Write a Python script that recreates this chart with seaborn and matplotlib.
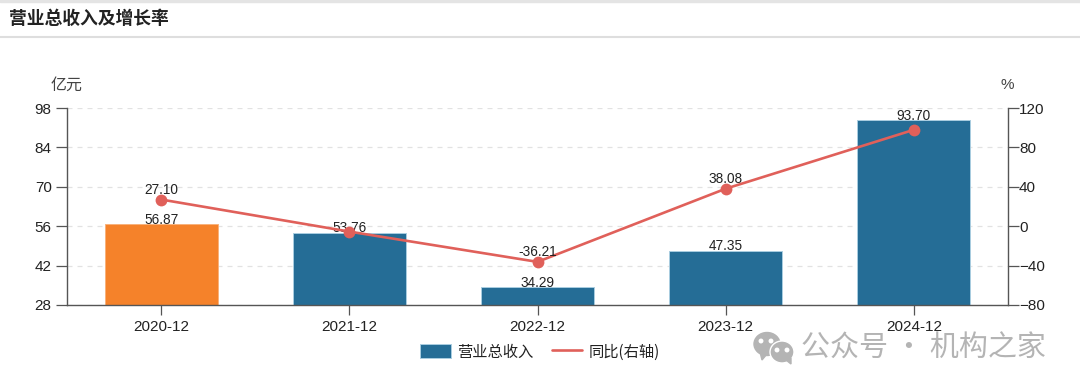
"""营业总收入及增长率 bar + line combo."""
import matplotlib; matplotlib.use("Agg")
import pandas as pd
import matplotlib.pyplot as plt
from matplotlib.lines import Line2D
from matplotlib.patches import Ellipse, Patch, Polygon, Rectangle
import seaborn as sns

periods = ["2020-12", "2021-12", "2022-12", "2023-12", "2024-12"]
revenue = [56.87, 53.76, 34.29, 47.35, 93.70]
growth = [27.10, -5.47, -36.21, 38.08, 97.88]
growth_labels = ["27.10", "", "-36.21", "38.08", ""]
left_ticks = [28, 42, 56, 70, 84, 98]
right_ticks = [-80, -40, 0, 40, 80, 120]

BLUE, ORANGE, RED = "#256d96", "#f5822a", "#e0605a"
W, H = 1080, 391

sns.set_theme(style="white")
plt.rcParams["font.family"] = ["Liberation Sans", "Noto Sans CJK SC", "DejaVu Sans"]
CJK = ["Noto Sans CJK SC", "DejaVu Sans"]

df = pd.DataFrame({"period": periods, "revenue": revenue, "growth": growth})

fig = plt.figure(figsize=(W / 100, H / 100), dpi=100)
ax = fig.add_axes([67 / W, 1 - 305 / H, 941 / W, 197 / H])
sns.barplot(data=df, x="period", y="revenue", width=0.6, color=BLUE, saturation=1,
            edgecolor="#a9cde0", linewidth=0.7, ax=ax, zorder=2)
ax.patches[0].set_facecolor(ORANGE)
ax.patches[0].set_edgecolor("#f8b27c")
ax.set_ylim(28, 98); ax.set_xlim(-0.5, 4.5)
ax.set_yticks(left_ticks); ax.set_xlabel(""); ax.set_ylabel("")
ax.yaxis.grid(True, color="#e2e2e2", ls=(0, (4, 4)), lw=0.9); ax.set_axisbelow(True)
ax.tick_params(axis="both", length=8, width=0.9, color="#555555", labelsize=11,
               labelcolor="#222222", pad=3, left=True, bottom=True)
ax.tick_params(axis="x", length=7, pad=4)
for s in ax.spines.values():
    s.set_visible(False)
for s in ("left", "bottom"):
    ax.spines[s].set_visible(True); ax.spines[s].set_color("#555555"); ax.spines[s].set_linewidth(1)
for x, v in enumerate(revenue):
    ax.annotate(f"{v:.2f}", (x, v), xytext=(0, -2), textcoords="offset points", ha="center",
                va="bottom", fontsize=9.8, color="#222222", zorder=6, annotation_clip=False)

ax2 = ax.twinx()
sns.lineplot(data=df, x="period", y="growth", color=RED, lw=1.9, marker="o", ms=8.5,
             mew=0, ax=ax2, zorder=5, sort=False)
ax2.set_ylim(-80, 120); ax2.set_yticks(right_ticks); ax2.set_ylabel(""); ax2.grid(False)
ax2.tick_params(axis="y", length=8, width=0.9, color="#555555", labelsize=11,
                labelcolor="#222222", pad=0, right=True)
for s in ax2.spines.values():
    s.set_visible(False)
ax2.spines["right"].set_visible(True); ax2.spines["right"].set_color("#555555"); ax2.spines["right"].set_linewidth(1)
for x, (v, t) in enumerate(zip(growth, growth_labels)):
    ax2.annotate(t, (x, v), xytext=(0, 2), textcoords="offset points", ha="center",
                 va="bottom", fontsize=9.8, color="#222222", zorder=6)


def px(x, y):
    return x / W, 1 - y / H


# header strip and unit labels
fig.add_artist(Rectangle((0, 1 - 2 / H), 1, 2 / H, color="#e4e4e4", transform=fig.transFigure))
fig.add_artist(Line2D([0, 1], [1 - 37 / H] * 2, color="#dedede", lw=1.5))
fig.text(*px(9, 19), "营业总收入及增长率", family=CJK, fontsize=12.8, fontweight="bold",
         color="#222222", va="center")
fig.text(*px(67, 85), "亿元", family=CJK, fontsize=11.5, color="#444444", ha="center", va="center")
fig.text(*px(1007, 85), "%", fontsize=11, color="#444444", ha="center", va="center")

# legend
leg = fig.legend(handles=[Patch(facecolor=BLUE, edgecolor="#a9cde0", lw=0.7, label="营业总收入"),
                          Line2D([], [], color=RED, lw=1.9, label="同比(右轴)")],
                 loc="center", bbox_to_anchor=px(540, 352), ncol=2, frameon=False,
                 prop={"family": CJK, "size": 11}, handlelength=2.0, handleheight=1.0,
                 columnspacing=1.2, handletextpad=0.4, labelcolor="#222222")

# watermark
GREY = "#b4b4b4"
fig.add_artist(Ellipse(px(767, 344), 26 / W, 23 / H, color=GREY, transform=fig.transFigure))
fig.add_artist(Polygon([px(760, 352), px(767, 354), px(762, 360)], color=GREY, transform=fig.transFigure))
fig.add_artist(Ellipse(px(782, 352), 24 / W, 22 / H, color=GREY, ec="white", lw=1, transform=fig.transFigure))
fig.add_artist(Polygon([px(786, 360), px(791, 358), px(791, 364)], color=GREY, transform=fig.transFigure))
for ex, ey in [(761, 341), (771, 341), (777, 350), (787, 350)]:
    fig.add_artist(Ellipse(px(ex, ey), 3.5 / W, 3.5 / H, color="white", transform=fig.transFigure))
fig.text(*px(801, 349), "公众号 · 机构之家", family=CJK, fontsize=20.9, color=GREY, va="center")

fig.savefig("out.png", dpi=100, facecolor="white")
